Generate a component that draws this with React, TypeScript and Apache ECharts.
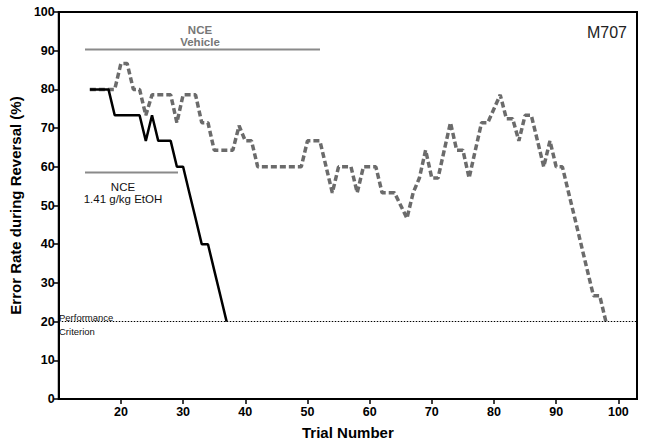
import React, { useEffect, useRef } from "react";
import * as echarts from "echarts";

const etohStartTrial = 15;
const etohValues = [80, 80, 80, 80, 73.3, 73.3, 73.3, 73.3, 73.3, 66.7, 73.3, 66.7, 66.7, 66.7, 60, 60, 53.3, 46.7, 40, 40, 33.3, 26.7, 20];

const vehicleStartTrial = 15;
const vehicleValues = [
  80, 80, 80, 80, 80, 86.7, 86.7, 80, 80, 73.3,
  78.6, 78.6, 78.6, 78.6, 71.4, 78.6, 78.6, 78.6, 71.4, 71.4,
  64.3, 64.3, 64.3, 64.3, 70.6, 66.7, 66.7, 60, 60, 60,
  60, 60, 60, 60, 60, 66.7, 66.7, 66.7, 60, 53.3,
  60, 60, 60, 53.3, 60, 60, 60, 53.3, 53.3, 53.3,
  50, 46.7, 53.3, 57.1, 64.3, 57.1, 57.1, 64.3, 71.4, 64.3,
  64.3, 57.1, 64.3, 71.4, 71.4, 75, 78.6, 72.4, 72.4, 66.7,
  73.3, 73.3, 66.7, 60, 66.7, 60, 60, 53.3, 46.7, 40,
  33.3, 26.7, 26.7, 20,
];

const criterionValue = 20;
const xTickMin = 10;
const xTickMax = 103;
const yTickMin = 0;
const yTickMax = 100;

const FONT = "'Liberation Sans', Arial, sans-serif";

export default function App() {
  const ref = useRef<HTMLDivElement>(null);
  useEffect(() => {
    if (!ref.current) return;
    const chart = echarts.init(ref.current, undefined, { renderer: "svg" });
    const etohData = etohValues.map((v, i) => [etohStartTrial + i, v]);
    const vehData = vehicleValues.map((v, i) => [vehicleStartTrial + i, v]);
    chart.setOption({
      animation: false,
      grid: {
        left: 55,
        right: 9,
        top: 12,
        bottom: 44,
        show: true,
        borderColor: "#000",
        borderWidth: 2,
        backgroundColor: "transparent",
      },
      xAxis: {
        type: "value",
        min: xTickMin,
        max: xTickMax,
        interval: 10,
        name: "Trial Number",
        nameLocation: "middle",
        nameGap: 26,
        nameTextStyle: { fontFamily: FONT, fontWeight: "bold", fontSize: 15, color: "#000" },
        axisLine: { show: true, lineStyle: { color: "#000", width: 2 } },
        axisTick: { show: true, length: 5, lineStyle: { color: "#000", width: 1.5 } },
        axisLabel: {
          showMinLabel: false,
          showMaxLabel: false,
          fontFamily: FONT,
          fontWeight: "bold",
          fontSize: 12.5,
          color: "#000",
          margin: 6,
        },
        splitLine: { show: false },
      },
      yAxis: {
        type: "value",
        min: yTickMin,
        max: yTickMax,
        interval: 10,
        name: "Error Rate during Reversal (%)",
        nameLocation: "middle",
        nameGap: 34,
        nameTextStyle: { fontFamily: FONT, fontWeight: "bold", fontSize: 15, color: "#000" },
        axisLine: { show: true, lineStyle: { color: "#000", width: 2 } },
        axisTick: { show: true, length: 5, lineStyle: { color: "#000", width: 1.5 } },
        axisLabel: {
          fontFamily: FONT,
          fontWeight: "bold",
          fontSize: 12.5,
          color: "#000",
          margin: 4,
        },
        splitLine: { show: false },
      },
      series: [
        {
          name: "NCE Vehicle",
          type: "line",
          data: vehData,
          showSymbol: false,
          symbol: "none",
          lineStyle: { color: "#6b6b6b", width: 3.5, type: [6, 3] },
          z: 2,
        },
        {
          name: "NCE 1.41 g/kg EtOH",
          type: "line",
          data: etohData,
          showSymbol: false,
          symbol: "none",
          lineStyle: { color: "#000", width: 2.5 },
          z: 3,
          markLine: {
            silent: true,
            symbol: ["none", "none"],
            label: { show: false },
            lineStyle: { color: "#000", width: 1, type: [1.5, 1.5] },
            data: [{ yAxis: criterionValue }],
          },
        },
      ],
      graphic: [
        { type: "line", shape: { x1: 85, y1: 49.5, x2: 320, y2: 49.5 }, style: { stroke: "#8a8a8a", lineWidth: 2 } },
        { type: "text", x: 200, y: 30, style: { text: "NCE", fill: "#777", font: "bold 11.5px " + FONT, textAlign: "center", textVerticalAlign: "middle" } },
        { type: "text", x: 200, y: 42, style: { text: "Vehicle", fill: "#777", font: "bold 11.5px " + FONT, textAlign: "center", textVerticalAlign: "middle" } },
        { type: "line", shape: { x1: 85, y1: 172.5, x2: 178, y2: 172.5 }, style: { stroke: "#8a8a8a", lineWidth: 2 } },
        { type: "text", x: 123, y: 186.5, style: { text: "NCE", fill: "#111", font: "11.5px " + FONT, textAlign: "center", textVerticalAlign: "middle" } },
        { type: "text", x: 123, y: 199, style: { text: "1.41 g/kg EtOH", fill: "#111", font: "11.5px " + FONT, textAlign: "center", textVerticalAlign: "middle" } },
        { type: "text", x: 59, y: 317, style: { text: "Performance", fill: "#111", font: "9.5px " + FONT, textAlign: "left", textVerticalAlign: "middle" } },
        { type: "text", x: 59, y: 331, style: { text: "Criterion", fill: "#111", font: "9.5px " + FONT, textAlign: "left", textVerticalAlign: "middle" } },
        { type: "text", x: 627, y: 32, style: { text: "M707", fill: "#222", font: "16px " + FONT, textAlign: "right", textVerticalAlign: "middle" } },
      ],
    });
    return () => chart.dispose();
  }, []);
  return <div ref={ref} style={{ width: 646, height: 445, position: "absolute", left: 0, top: 0 }} />;
}
